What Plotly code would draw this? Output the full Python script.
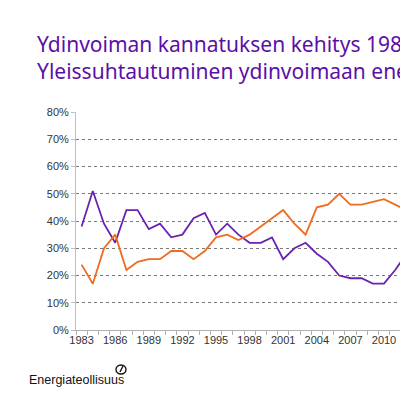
import plotly.graph_objects as go

years = list(range(1983, 2013))
vastustaa = [38, 51, 39, 32, 44, 44, 37, 39, 34, 35, 41, 43, 35, 39, 35, 32, 32, 34, 26, 30, 32, 28, 25, 20, 19, 19, 17, 17, 22, 28]
kannattaa = [24, 17, 30, 35, 22, 25, 26, 26, 29, 29, 26, 29, 34, 35, 33, 35, 38, 41, 44, 39, 35, 45, 46, 50, 46, 46, 47, 48, 46, 44]
tick_years = list(range(1983, 2013, 3))
y_ticks = [0, 0.1, 0.2, 0.3, 0.4, 0.5, 0.6, 0.7, 0.8]

title_lines = ["Ydinvoiman kannatuksen kehitys 1983–2012",
               "Yleissuhtautuminen ydinvoimaan energiantuotantomuotona"]

L, T, B = 76, 112, 70
W, H = 400, 400
pw, ph = W - L, H - T - B

def px(x):
    return (x - L) / pw

def py(y):
    return (H - B - y) / ph

fig = go.Figure()
fig.add_trace(go.Scatter(x=years, y=[v / 100 for v in vastustaa], mode="lines",
                         line=dict(color="#6a22b0", width=1.8), name="Vastustaa"))
fig.add_trace(go.Scatter(x=years, y=[v / 100 for v in kannattaa], mode="lines",
                         line=dict(color="#ef6b1f", width=1.8), name="Kannattaa"))

fig.update_layout(
    width=W, height=H,
    margin=dict(l=L, r=0, t=T, b=B),
    paper_bgcolor="white", plot_bgcolor="white",
    showlegend=False,
    title=dict(text="<br>".join(title_lines), x=37 / W, xanchor="left", xref="container",
               y=1 - 52 / H, yanchor="top", yref="container",
               font=dict(family="Noto Sans", size=21, color="#5a10a8")),
    font=dict(family="Liberation Sans, Arial", size=11, color="#333"),
)
fig.update_xaxes(range=[1982.5, 1982.5 + pw / 11.2], tickvals=tick_years,
                 ticktext=[str(y) for y in tick_years], ticks="", showgrid=False,
                 showline=True, linecolor="#b0b0b0", linewidth=1,
                 tickfont=dict(size=11, color="#333"),
                 minor=dict(tick0=1982.5, dtick=1, ticks="outside", ticklen=4,
                            tickcolor="#b0b0b0", showgrid=False))
fig.update_yaxes(range=[0, 0.8], tickvals=y_ticks, tickformat=".0%",
                 showgrid=True, gridcolor="#7a7a7a", griddash="dot", gridwidth=1,
                 showline=True, linecolor="#c0c0c0", linewidth=1,
                 ticks="outside", ticklen=4, tickcolor="#c0c0c0",
                 zeroline=False, tickfont=dict(size=11, color="#333"))

fig.add_annotation(text="Energiateollisuus", xref="paper", yref="paper",
                   x=px(27), y=py(380), xanchor="left", yanchor="middle",
                   showarrow=False, font=dict(family="Liberation Sans, Arial", size=12.5, color="#111"))
fig.add_shape(type="circle", xref="paper", yref="paper",
              x0=px(116), x1=px(126), y0=py(374), y1=py(365),
              line=dict(color="#111", width=1.4))
fig.add_shape(type="line", xref="paper", yref="paper",
              x0=px(120), x1=px(123), y0=py(372), y1=py(366),
              line=dict(color="#111", width=1.4))

fig.write_html("out.html")
